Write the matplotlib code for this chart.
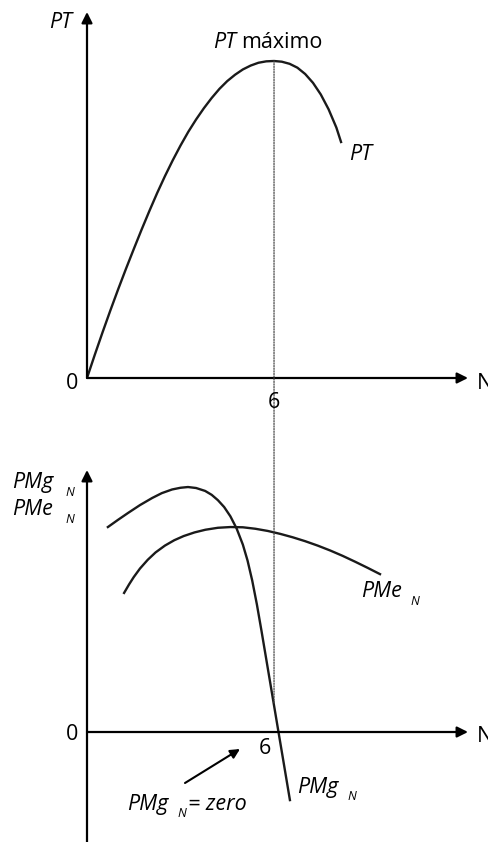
import matplotlib
matplotlib.use('Agg')
import matplotlib.pyplot as plt
from matplotlib.patches import ConnectionPatch, FancyArrowPatch

plt.rcParams['font.family'] = ['Open Sans', 'DejaVu Sans']

W, H = 489, 842

# Produto total (top panel)
n_pt = [0, 0.25, 0.5, 0.75, 1.0, 1.25, 1.5, 1.75, 2.0, 2.25, 2.5, 2.75, 3.0,
        3.25, 3.5, 3.75, 4.0, 4.25, 4.5, 4.75, 5.0, 5.25, 5.5, 5.75, 6.0,
        6.25, 6.5, 6.75, 7.0, 7.25, 7.5, 7.75, 8.0, 8.15]
pt = [0, 6.6, 13.0, 19.2, 25.2, 31.0, 36.6, 42.1, 47.4, 52.5, 57.3, 61.8,
      66.0, 69.9, 73.4, 76.6, 79.5, 82.1, 84.3, 86.1, 87.6, 88.7, 89.5, 89.9,
      90.0, 89.8, 89.2, 88.1, 86.3, 83.8, 80.5, 76.3, 71.1, 67.0]

# Produto marginal
n_pmg = [0.67, 1.0, 1.32, 1.7, 2.09, 2.4, 2.73, 3.0, 3.24, 3.5, 3.79, 4.0,
         4.2, 4.4, 4.6, 4.8, 5.0, 5.15, 5.3, 5.45, 5.6, 5.8, 6.0, 6.13, 6.3,
         6.51]
pmg = [8.40, 8.70, 8.98, 9.30, 9.59, 9.79, 9.94, 10.01, 10.04, 10.00, 9.88,
       9.72, 9.50, 9.22, 8.84, 8.34, 7.68, 7.03, 6.21, 5.23, 4.13, 2.61, 1.09,
       0.10, -1.19, -2.79]

# Produto medio
n_pme = [1.19, 1.35, 1.5, 1.7, 1.95, 2.2, 2.5, 2.8, 3.1, 3.45, 3.8, 4.2, 4.6,
         5.0, 5.4, 5.8, 6.2, 6.6, 7.0, 7.4, 7.8, 8.2, 8.6, 9.0, 9.4]
pme = [5.70, 6.05, 6.35, 6.70, 7.06, 7.36, 7.64, 7.86, 8.03, 8.18, 8.29, 8.37,
       8.40, 8.39, 8.33, 8.24, 8.12, 7.98, 7.82, 7.64, 7.44, 7.22, 6.98, 6.73,
       6.47]

n_max = 6
pt_max = 90

fig = plt.figure(figsize=(W / 100, H / 100), dpi=100)

def px(x, y):
    return x / W, 1 - y / H

curve = dict(color='#1a1a1a', lw=1.7, solid_joinstyle='round')
axis_arrow = dict(arrowstyle='-|>', lw=1.6, color='black',
                  mutation_scale=16, shrinkA=0, shrinkB=0)

# top panel
ax1 = fig.add_axes([87 / W, 1 - 378 / H, 381 / W, 366 / H])
ax1.set_xlim(0, 12.223)
ax1.set_ylim(0, 103.91)
ax1.axis('off')
ax1.plot(n_pt, pt, **curve)
ax1.annotate('', xy=(1, 0), xytext=(0, 0), xycoords='axes fraction',
             arrowprops=axis_arrow)
ax1.annotate('', xy=(0, 1), xytext=(0, 0), xycoords='axes fraction',
             arrowprops=axis_arrow)

# bottom panel
ax2 = fig.add_axes([87 / W, 0, 381 / W, 372 / H])
ax2.set_xlim(0, 12.223)
ax2.set_ylim(-4.508, 10.738)
ax2.axis('off')
ax2.plot(n_pmg, pmg, **curve)
ax2.plot(n_pme, pme, **curve)
ax2.annotate('', xy=(12.223, 0), xytext=(0, 0), xycoords='data',
             arrowprops=axis_arrow)
ax2.annotate('', xy=(0, 1), xytext=(0, 0), xycoords='axes fraction',
             arrowprops=axis_arrow)

# dotted guide at N = 6
con = ConnectionPatch(xyA=(n_max, pt_max), coordsA=ax1.transData,
                      xyB=(n_max, 1.2), coordsB=ax2.transData,
                      color='#444444', lw=0.9, linestyle=(0, (1, 1.1)))
fig.add_artist(con)

fs = 15.5
sub = 9

def label(x, y, s, style='italic', size=fs, ha='left', va='baseline'):
    fig.text(*px(x, y), s, fontsize=size, style=style, ha=ha, va=va)

# top labels
label(61, 22, 'PT', ha='center', va='center')
label(236, 48, 'PT', ha='right')
label(241, 48, 'máximo', style='normal')
label(349, 160, 'PT')
label(72, 383, '0', style='normal', ha='center', va='center')
label(274, 403, '6', style='normal', ha='center', va='center')
label(477, 384, 'N', style='normal', va='center')

# bottom labels
label(12, 488, 'PMg')
label(65, 496, 'N', size=sub)
label(12, 515, 'PMe')
label(65, 523, 'N', size=sub)
label(361, 597, 'PMe')
label(410, 605, 'N', size=sub)
label(297, 793, 'PMg')
label(347, 800, 'N', size=sub)
label(127, 810, 'PMg')
label(177, 817, 'N', size=sub)
label(188, 810, '= zero')
label(72, 735, '0', style='normal', ha='center', va='center')
label(265, 748, '6', style='normal', ha='center', va='center')
label(477, 737, 'N', style='normal', va='center')

fig.add_artist(FancyArrowPatch(
    px(185, 783), px(240, 749), transform=fig.transFigure,
    arrowstyle='-|>', mutation_scale=14, lw=1.5, color='black',
    shrinkA=0, shrinkB=0))

fig.savefig('out.png', dpi=100)
